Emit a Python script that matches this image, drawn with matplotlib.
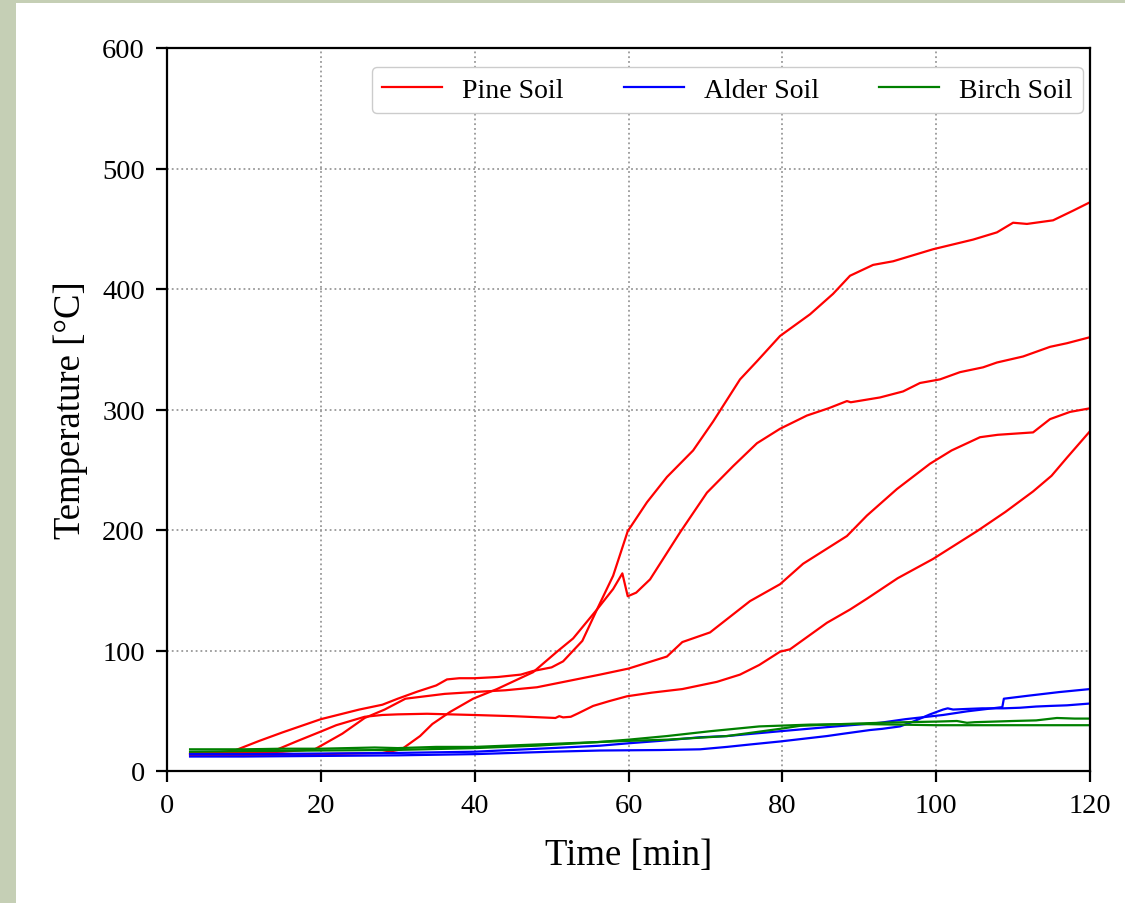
import matplotlib
matplotlib.use("Agg")
import matplotlib.pyplot as plt
from matplotlib.patches import Rectangle

# ---- Pine soil (4 runs) ----
pine1_t = [3, 6, 8.8, 12, 15, 20, 25, 28, 30, 32.6, 35, 36.4, 38, 40, 43, 46, 47.6, 50, 51.5, 54, 55.9, 58, 59.9,
           62.4, 65, 68.4, 71, 74.5, 76.7, 79.7, 83.6, 86.6, 88.8, 91.8, 94.4, 99.6, 104.8, 107.9, 110, 111.8,
           115.2, 117.8, 120]
pine1_T = [15, 15, 17, 25, 32, 43, 51, 55, 60, 66, 71, 76, 77, 77, 78, 80, 83, 86, 91, 108, 134, 162, 199,
           223, 244, 266, 290, 325, 340, 361, 379, 396, 411, 420, 423, 433, 441, 447, 455, 454,
           457, 465, 472]

pine2_t = [3, 10, 20, 28, 30.5, 32.9, 34.5, 36.8, 39.8, 42.9, 47.6, 50.7, 52.8, 55.9, 58, 59.2, 59.9, 61, 62.8,
           66.7, 70.2, 73.6, 76.7, 79.7, 83.2, 86, 88.4, 88.9, 92.7, 95.7, 97.9, 100.5, 103.1, 106.1, 107.9,
           111.3, 114.8, 117, 120]
pine2_T = [13, 13, 14, 15, 18, 29, 39, 49, 60, 68, 82, 99, 110, 134, 151, 164, 145, 148, 159,
           198, 231, 253, 272, 284, 295, 301, 307, 306, 310, 315, 322, 325, 331, 335, 339,
           344, 352, 355, 360]

pine3_t = [3, 10, 15, 19.2, 22.8, 25.7, 28.3, 31, 36.1, 39.8, 44, 48.1, 52.4, 56.3, 60, 65, 67, 70.6, 73,
           75.8, 79.7, 82.7, 88.4, 91, 94.9, 99.2, 102, 105.7, 108, 112.6, 114.8, 117.4, 120]
pine3_T = [14, 15, 16, 18, 31, 44, 51, 60, 64, 65.5, 67, 69.5, 75, 80, 85, 95, 107, 115, 127,
           141, 155, 172, 195, 212, 234, 255, 266, 277, 279, 281, 292, 298, 301]

pine4_t = [3, 10, 14, 17, 20.1, 22, 25.7, 28, 30, 33.8, 39.8, 45, 50.5, 51, 51.5, 52.5, 53.5, 55.4, 57.5,
           59.8, 63, 67, 71.5, 74.5, 77, 79.7, 81, 85.8, 88.8, 91, 95, 99.6, 105.3, 109, 112.6, 115,
           117, 120]
pine4_T = [14, 15, 17, 25, 33, 38, 45, 46.5, 47, 47.5, 46.5, 45.5, 44, 45.5, 44.5, 45, 48, 54, 58,
           62, 65, 68, 74, 80, 88, 99, 101, 123, 134, 143, 160, 176, 199, 215, 232, 245,
           260, 282]

# ---- Alder soil (2 runs) ----
alder1_t = [3, 10, 20, 30, 40, 50, 56.3, 60, 64.1, 69.3, 72.8, 79.7, 86, 92.7, 96, 100.9, 104, 108.6,
            108.8, 112, 116, 120]
alder1_T = [14, 14, 14.5, 15, 16, 19, 21, 23, 25, 28, 29, 33, 36.5, 40, 43, 46.5, 49.5, 53,
            60, 62.5, 65.5, 68]

alder2_t = [3, 10, 20, 30, 40, 50, 56.3, 64.1, 69.3, 72.8, 75.8, 79.7, 85.8, 88, 91.4, 93, 95.3, 97,
            99.2, 100.9, 101.5, 102.2, 104, 106, 108.7, 110.9, 113, 114.8, 117, 120]
alder2_T = [12, 12, 12.5, 13, 14, 16, 17, 17.4, 18, 20, 22, 24.5, 29, 31, 34, 35, 37, 41,
            47, 51, 52, 51, 51.5, 52, 52, 52.5, 53.5, 54, 54.5, 56]

# ---- Birch soil (2 runs) ----
birch1_t = [3, 10, 15, 20, 27, 30, 35, 40, 48, 56, 60, 65, 70.6, 77, 83.6, 90, 95, 100, 110, 120]
birch1_T = [18, 18, 18.5, 18.5, 19.5, 19, 20, 20, 22, 24, 26, 29, 33, 37, 38.5, 39, 38.5, 38, 38, 38]

birch2_t = [3, 10, 20, 30, 40, 48, 56, 60, 65, 72.8, 79.7, 82.3, 88, 92.7, 96, 100, 102.7, 104, 105,
            110, 113, 115.7, 118, 120]
birch2_T = [16, 16.5, 17, 17.5, 19, 21, 24, 25, 26, 29, 35, 37.5, 39, 40, 40.5, 41, 41.5, 40, 40.5,
            41.5, 42, 44, 43.5, 43.5]

plt.rcParams["font.family"] = ["Liberation Serif", "DejaVu Serif"]

fig = plt.figure(figsize=(11.25, 9.04), dpi=100)
fig.patch.set_facecolor("#c5cfb5")
fig.add_artist(Rectangle((16 / 1125, 0), 1, 1 - 4 / 904, transform=fig.transFigure,
                         facecolor="white", edgecolor="none", zorder=-10))

ax = fig.add_axes([167 / 1125, 1 - 772 / 904, (1090 - 167) / 1125, (772 - 49) / 904])

lw = 1.6
ax.plot(pine1_t, pine1_T, color="red", lw=lw, label="Pine Soil")
ax.plot(pine2_t, pine2_T, color="red", lw=lw)
ax.plot(pine3_t, pine3_T, color="red", lw=lw)
ax.plot(pine4_t, pine4_T, color="red", lw=lw)
ax.plot(alder1_t, alder1_T, color="blue", lw=lw, label="Alder Soil")
ax.plot(alder2_t, alder2_T, color="blue", lw=lw)
ax.plot(birch1_t, birch1_T, color="green", lw=lw, label="Birch Soil")
ax.plot(birch2_t, birch2_T, color="green", lw=lw)

ax.set_xlim(0, 120)
ax.set_ylim(0, 600)
ax.set_xticks(range(0, 121, 20))
ax.set_yticks(range(0, 601, 100))
ax.grid(True, linestyle=":", color="#999999", lw=1.3)
for s in ax.spines.values():
    s.set_linewidth(1.6)
ax.tick_params(labelsize=20.5, width=1.6, length=8, direction="out", pad=8)

ax.set_xlabel("Time [min]", fontsize=26.5, labelpad=14)
ax.set_ylabel("Temperature [°C]", fontsize=26.5, labelpad=10)

ax.legend(loc="upper right", ncol=3, fontsize=20, handlelength=2.16, handletextpad=0.72,
          columnspacing=2.16, framealpha=1, edgecolor="#cccccc", borderpad=0.38,
          bbox_to_anchor=(1.0075, 0.9935))

fig.savefig("out.png", dpi=100)
